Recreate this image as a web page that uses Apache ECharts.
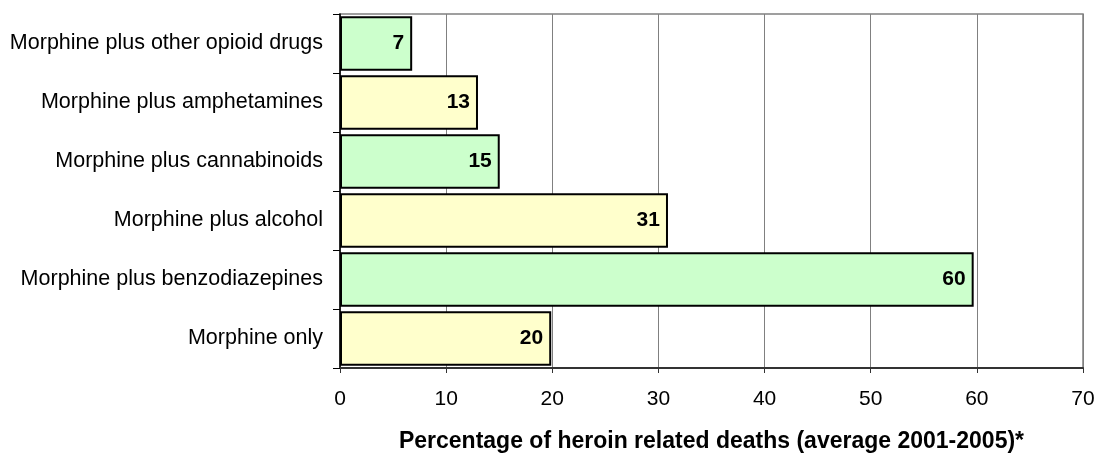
<!DOCTYPE html>
<html>
<head>
<meta charset="utf-8">
<script src="https://cdn.jsdelivr.net/npm/echarts@6/dist/echarts.min.js"></script>
<style>
html,body{margin:0;padding:0;background:#fff;}
#chart{width:1098px;height:453px;}
</style>
</head>
<body>
<div id="chart"></div>
<script>
// Categories listed bottom to top (ECharts category y-axis starts at the bottom)
const categories = [
  "Morphine only",
  "Morphine plus benzodiazepines",
  "Morphine plus alcohol",
  "Morphine plus cannabinoids",
  "Morphine plus amphetamines",
  "Morphine plus other opioid drugs"
];
const values = [19.9, 59.7, 30.9, 15.05, 13.0, 6.8];
const valueLabels = ["20", "60", "31", "15", "13", "7"];
const xTicks = [0, 10, 20, 30, 40, 50, 60, 70];
const axisTitle = "Percentage of heroin related deaths (average 2001-2005)*";

const barColors = ["#FFFFCC", "#CCFFCC"];
const font = "Arial, 'Liberation Sans', sans-serif";

const chart = echarts.init(document.getElementById('chart'), null, {renderer: 'canvas'});
chart.setOption({
  animation: false,
  backgroundColor: '#ffffff',
  grid: {
    left: 340, right: 15, top: 14, bottom: 85,
    containLabel: false,
    outerBoundsMode: 'none',
    show: true, borderColor: '#808080', borderWidth: 1.5, backgroundColor: 'transparent'
  },
  xAxis: {
    type: 'value',
    min: xTicks[0], max: xTicks[xTicks.length - 1], interval: 10,
    axisLine: {show: true, onZero: false, lineStyle: {color: '#333333', width: 2}},
    axisTick: {show: true, length: 5, lineStyle: {color: '#333333', width: 1}},
    splitLine: {show: true, lineStyle: {color: '#808080', width: 1}},
    axisLabel: {color: '#000', fontFamily: font, fontSize: 21, margin: 21},
    name: axisTitle,
    nameLocation: 'middle',
    nameGap: 62,
    nameTextStyle: {color: '#000', fontFamily: font, fontSize: 23, fontWeight: 'bold'}
  },
  yAxis: {
    type: 'category',
    data: categories,
    axisLine: {show: true, lineStyle: {color: '#000', width: 1.5}},
    axisTick: {show: true, length: 7, lineStyle: {color: '#000'}},
    splitLine: {show: false},
    axisLabel: {color: '#000', fontFamily: font, fontSize: 21.5, margin: 17}
  },
  series: [{
    type: 'bar',
    data: values,
    barCategoryGap: '8%',
    itemStyle: {
      color: p => barColors[p.dataIndex % 2],
      borderColor: '#000',
      borderWidth: 2
    },
    label: {
      show: true,
      position: 'insideRight',
      distance: 8,
      formatter: p => valueLabels[p.dataIndex],
      color: '#000',
      fontFamily: font,
      fontSize: 21,
      fontWeight: 'bold'
    }
  }]
});
</script>
</body>
</html>
